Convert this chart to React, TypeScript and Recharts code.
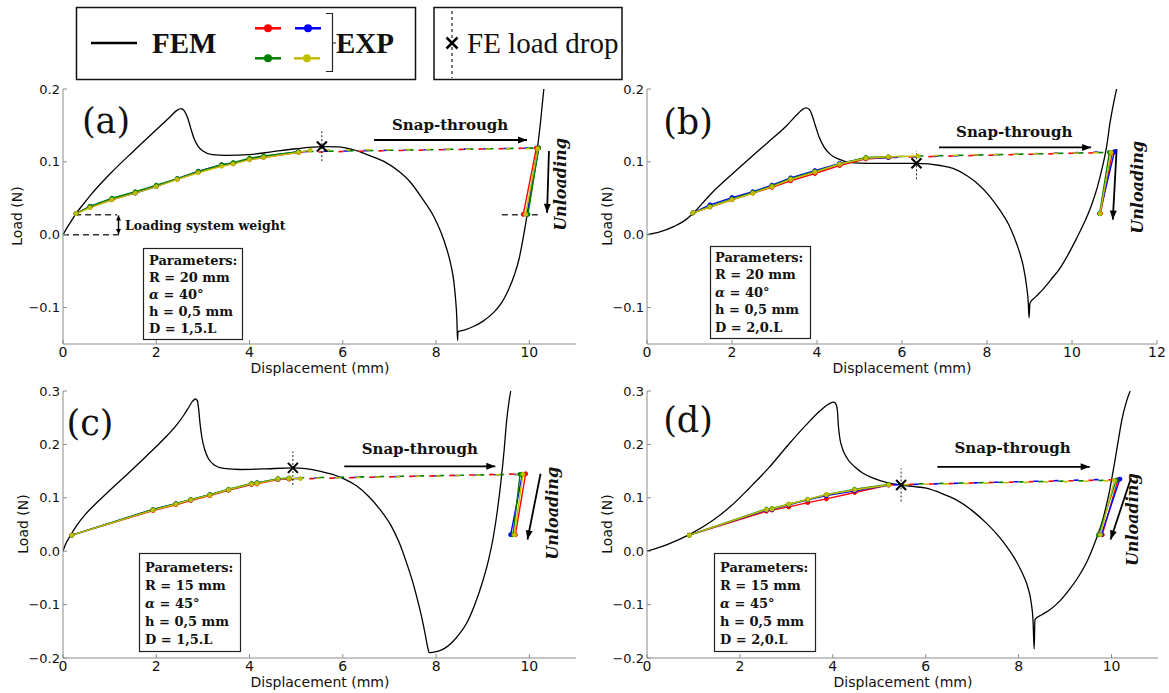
import React from 'react';
import { LineChart, Line, XAxis, YAxis, ReferenceLine, ReferenceDot } from 'recharts';

type Pt = [number, number];
type Row = (number | null)[];

const SERIF = '"DejaVu Serif", serif';
const SANS = '"DejaVu Sans", sans-serif';
const LEGEND_FONT = '"Liberation Serif", serif';
const EXP_COLORS = ['#ff0000', '#0000ff', '#008000', '#bfbf00'];
const AXIS_GREY = '#8c8c8c';

const xTicks11 = [0, 2, 4, 6, 8, 10];
const xTicks12 = [0, 2, 4, 6, 8, 10, 12];
const yTicksTop = [-0.1, 0, 0.1, 0.2];
const yTicksBottom = [-0.2, -0.1, 0, 0.1, 0.2, 0.3];

// ---------- (a) R = 20, D = 1,5.L
const femA: Pt[] = [
  [0, 0], [0.1, 0.011], [0.2, 0.021], [0.28, 0.029], [0.45, 0.043], [0.6, 0.055], [1.0, 0.083],
  [1.5, 0.114], [2.0, 0.144], [2.3, 0.162], [2.45, 0.171], [2.53, 0.173], [2.6, 0.17], [2.67, 0.161],
  [2.74, 0.146], [2.81, 0.132], [2.9, 0.121], [3.0, 0.115], [3.2, 0.11], [3.5, 0.109], [4.0, 0.11],
  [4.5, 0.114], [5.0, 0.118], [5.55, 0.121], [5.9, 0.1205], [6.2, 0.117], [6.6, 0.108], [6.9, 0.1],
  [7.2, 0.087], [7.45, 0.072], [7.7, 0.05], [7.95, 0.025], [8.1, 0.004], [8.23, -0.02], [8.32, -0.042],
  [8.38, -0.064], [8.42, -0.09], [8.445, -0.115], [8.46, -0.145], [8.47, -0.133], [8.6, -0.131],
  [8.8, -0.126], [9.0, -0.119], [9.23, -0.107], [9.4, -0.094], [9.55, -0.076], [9.68, -0.055],
  [9.78, -0.033], [9.88, 0.0], [9.95, 0.027], [10.02, 0.057], [10.1, 0.088], [10.17, 0.117],
  [10.24, 0.155], [10.31, 0.2],
];
// x, red, blue, green, yellow
const loadA: Row[] = [
  [0.28, 0.029, 0.029, 0.029, 0.029],
  [0.58, 0.038, 0.039, 0.039, 0.037],
  [1.05, 0.048, 0.049, 0.05, 0.048],
  [1.55, 0.058, 0.057, 0.059, 0.057],
  [2.0, 0.067, 0.066, 0.068, 0.066],
  [2.45, 0.076, 0.077, 0.077, 0.076],
  [2.9, 0.086, 0.087, 0.087, 0.085],
  [3.4, 0.095, 0.096, 0.096, 0.094],
  [3.65, 0.098, 0.098, 0.099, 0.097],
  [4.0, 0.103, 0.104, 0.105, 0.103],
  [4.3, 0.106, 0.107, 0.108, 0.106],
  [5.05, 0.113, 0.114, 0.114, 0.113],
  [5.3, null, null, null, 0.116],
];
const snapTopA: Pt[] = [[10.15, 0.119], [10.2, 0.119], [10.2, 0.119], [10.18, 0.118]];
const unloadBotA: Pt[] = [[9.87, 0.028], [9.95, 0.028], [9.97, 0.028], [9.92, 0.028]];
const paramsA = ['R = 20 mm', 'α = 40°', 'h = 0,5 mm', 'D = 1,5.L'];

// ---------- (b) R = 20, D = 2,0.L
const femB: Pt[] = [
  [0, 0], [0.3, 0.004], [0.64, 0.0115], [0.9, 0.02], [1.08, 0.029], [1.3, 0.043], [1.52, 0.057],
  [1.96, 0.081], [2.4, 0.104], [2.85, 0.127], [3.29, 0.15], [3.55, 0.166], [3.66, 0.172], [3.74, 0.174],
  [3.82, 0.172], [3.89, 0.163], [3.96, 0.15], [4.05, 0.134], [4.16, 0.121], [4.3, 0.111], [4.5, 0.104],
  [4.8, 0.099], [5.2, 0.098], [5.8, 0.098], [6.34, 0.098], [6.9, 0.095], [7.2, 0.091], [7.53, 0.081],
  [7.8, 0.069], [8.06, 0.053], [8.3, 0.034], [8.51, 0.014], [8.65, -0.005], [8.77, -0.025], [8.86, -0.045],
  [8.93, -0.07], [8.97, -0.092], [8.99, -0.114], [9.01, -0.094], [9.15, -0.085], [9.3, -0.076],
  [9.5, -0.062], [9.74, -0.044], [9.92, -0.026], [10.1, -0.006], [10.3, 0.018], [10.45, 0.039],
  [10.6, 0.066], [10.72, 0.094], [10.82, 0.123], [10.89, 0.152], [10.97, 0.178], [11.05, 0.2],
];
const loadB: Row[] = [
  [1.08, 0.03, 0.03, 0.03, 0.03],
  [1.48, 0.038, 0.041, 0.039, 0.038],
  [2.0, 0.048, 0.051, 0.049, 0.048],
  [2.49, 0.057, 0.059, 0.058, 0.057],
  [2.94, 0.065, 0.068, 0.067, 0.066],
  [3.38, 0.074, 0.078, 0.077, 0.076],
  [3.95, 0.084, 0.088, 0.087, 0.086],
  [4.53, 0.095, 0.098, 0.097, 0.097],
  [5.15, 0.104, 0.105, 0.106, 0.105],
  [5.68, 0.106, 0.106, 0.107, 0.107],
  [6.38, null, null, null, 0.108],
];
const snapTopB: Pt[] = [[10.95, 0.113], [11.0, 0.114], [10.88, 0.113], [10.92, 0.113]];
const unloadBotB: Pt[] = [[10.67, 0.029], [10.65, 0.029], [10.65, 0.029], [10.66, 0.029]];
const paramsB = ['R = 20 mm', 'α = 40°', 'h = 0,5 mm', 'D = 2,0.L'];

// ---------- (c) R = 15, D = 1,5.L
const femC: Pt[] = [
  [0, 0], [0.05, 0.012], [0.15, 0.028], [0.3, 0.049], [0.47, 0.068], [0.75, 0.093], [1.04, 0.117],
  [1.4, 0.146], [1.69, 0.17], [2.0, 0.196], [2.25, 0.218], [2.45, 0.238], [2.6, 0.256], [2.7, 0.27],
  [2.78, 0.281], [2.84, 0.285], [2.88, 0.282], [2.91, 0.265], [2.94, 0.238], [2.98, 0.212], [3.04, 0.19],
  [3.12, 0.173], [3.25, 0.161], [3.45, 0.155], [3.8, 0.153], [4.28, 0.154], [4.93, 0.156], [5.5, 0.15],
  [5.99, 0.137], [6.3, 0.122], [6.55, 0.103], [6.8, 0.078], [7.04, 0.047], [7.2, 0.018], [7.36, -0.02],
  [7.5, -0.058], [7.61, -0.094], [7.7, -0.127], [7.77, -0.157], [7.82, -0.18], [7.85, -0.19],
  [7.95, -0.189], [8.05, -0.187], [8.2, -0.181], [8.34, -0.171], [8.5, -0.155], [8.66, -0.134],
  [8.82, -0.102], [8.99, -0.059], [9.12, -0.018], [9.23, 0.028], [9.32, 0.08], [9.39, 0.13],
  [9.46, 0.19], [9.51, 0.242], [9.56, 0.278], [9.6, 0.3],
];
const loadC: Row[] = [
  [0.19, 0.03, 0.03, 0.03, 0.03],
  [1.93, 0.076, 0.078, 0.078, 0.077],
  [2.42, 0.087, 0.089, 0.089, 0.088],
  [2.74, 0.095, 0.096, 0.097, 0.096],
  [3.15, 0.104, 0.106, 0.106, 0.105],
  [3.55, 0.114, 0.115, 0.116, 0.115],
  [4.04, 0.125, 0.126, 0.127, 0.126],
  [4.16, 0.126, 0.128, 0.128, 0.127],
  [4.61, 0.134, 0.135, 0.136, 0.135],
  [4.85, 0.135, 0.136, 0.137, 0.136],
  [5.09, null, null, null, 0.136],
];
const snapTopC: Pt[] = [[9.92, 0.145], [9.85, 0.144], [9.8, 0.144], [9.86, 0.144]];
const unloadBotC: Pt[] = [[9.7, 0.031], [9.6, 0.031], [9.65, 0.031], [9.68, 0.031]];
const paramsC = ['R = 15 mm', 'α = 45°', 'h = 0,5 mm', 'D = 1,5.L'];

// ---------- (d) R = 15, D = 2,0.L
const femD: Pt[] = [
  [0, 0], [0.42, 0.012], [0.91, 0.031], [1.39, 0.056], [1.8, 0.084], [2.2, 0.118], [2.61, 0.155],
  [3.01, 0.196], [3.42, 0.236], [3.74, 0.264], [3.94, 0.277], [4.02, 0.279], [4.07, 0.275], [4.1, 0.262],
  [4.12, 0.235], [4.15, 0.212], [4.2, 0.194], [4.3, 0.175], [4.47, 0.158], [4.65, 0.146], [4.87, 0.137],
  [5.15, 0.129], [5.47, 0.124], [5.75, 0.121], [6.01, 0.118], [6.35, 0.108], [6.66, 0.096], [7.0, 0.076],
  [7.3, 0.053], [7.55, 0.03], [7.79, 0.003], [7.97, -0.022], [8.11, -0.047], [8.2, -0.068], [8.27, -0.096],
  [8.31, -0.13], [8.335, -0.183], [8.35, -0.128], [8.5, -0.119], [8.68, -0.109], [8.9, -0.092],
  [9.09, -0.072], [9.3, -0.046], [9.49, -0.016], [9.65, 0.018], [9.81, 0.059], [9.95, 0.11],
  [10.06, 0.163], [10.15, 0.21], [10.22, 0.245], [10.32, 0.28], [10.4, 0.3],
];
const loadD: Row[] = [
  [0.91, 0.03, 0.03, 0.03, 0.03],
  [2.57, 0.075, 0.077, 0.079, 0.078],
  [2.69, 0.077, 0.078, 0.08, 0.079],
  [3.05, 0.083, 0.087, 0.088, 0.088],
  [3.46, 0.091, 0.096, 0.097, 0.097],
  [3.86, 0.098, 0.104, 0.106, 0.106],
  [4.47, 0.11, 0.113, 0.116, 0.115],
  [5.2, 0.124, 0.124, 0.125, 0.124],
];
const snapTopD: Pt[] = [[10.14, 0.134], [10.18, 0.135], [10.1, 0.133], [10.06, 0.132]];
const unloadBotD: Pt[] = [[9.8, 0.031], [9.78, 0.031], [9.72, 0.031], [9.76, 0.031]];
const paramsD = ['R = 15 mm', 'α = 45°', 'h = 0,5 mm', 'D = 2,0.L'];

interface PanelCfg {
  letter: string;
  plot: [number, number, number, number]; // left, top, width, height in px
  xMax: number;
  xTicks: number[];
  yDomain: Pt;
  yTicks: number[];
  fem: Pt[];
  load: Row[];
  snapTop: Pt[];
  unloadBot: Pt[];
  drop: Pt;
  dropSpan: Pt;
  snapText: Pt;
  snapArrow: [Pt, Pt];
  unloadText: Pt;
  unloadArrow: [Pt, Pt];
  weight?: boolean;
  params: string[];
  letterPos: Pt;
  box: [number, number, number, number];
  paramText: [number, number, number]; // x, first line centre, step
  loadTitle: Pt;
  dispTitle: Pt;
}

const PANELS: PanelCfg[] = [
  {
    letter: '(a)', plot: [63, 89, 513, 255], xMax: 11, xTicks: xTicks11, yDomain: [-0.15, 0.2], yTicks: yTicksTop,
    fem: femA, load: loadA, snapTop: snapTopA, unloadBot: unloadBotA,
    drop: [5.55, 0.121], dropSpan: [0.101, 0.142],
    snapText: [8.3, 0.15], snapArrow: [[6.67, 0.13], [9.95, 0.13]],
    unloadText: [10.67, 0.069], unloadArrow: [[10.42, 0.115], [10.38, 0.03]],
    weight: true, params: paramsA,
    letterPos: [106, 121], box: [143, 248, 99, 91], paramText: [149, 260, 17],
    loadTitle: [17, 216], dispTitle: [320, 368],
  },
  {
    letter: '(b)', plot: [647, 89, 510, 255], xMax: 12, xTicks: xTicks12, yDomain: [-0.15, 0.2], yTicks: yTicksTop,
    fem: femB, load: loadB, snapTop: snapTopB, unloadBot: unloadBotB,
    drop: [6.34, 0.098], dropSpan: [0.076, 0.115],
    snapText: [8.64, 0.141], snapArrow: [[6.87, 0.1198], [10.45, 0.1198]],
    unloadText: [11.55, 0.065], unloadArrow: [[11.05, 0.1175], [10.96, 0.0207]],
    params: paramsB,
    letterPos: [688, 122], box: [710, 246, 100, 92], paramText: [715, 257, 17.5],
    loadTitle: [607, 216], dispTitle: [902, 368],
  },
  {
    letter: '(c)', plot: [63, 391, 513, 267], xMax: 11, xTicks: xTicks11, yDomain: [-0.2, 0.3], yTicks: yTicksBottom,
    fem: femC, load: loadC, snapTop: snapTopC, unloadBot: unloadBotC,
    drop: [4.93, 0.156], dropSpan: [0.124, 0.187],
    snapText: [7.65, 0.191], snapArrow: [[6.03, 0.159], [9.27, 0.159]],
    unloadText: [10.49, 0.071], unloadArrow: [[10.24, 0.145], [9.96, 0.022]],
    params: paramsC,
    letterPos: [90, 423], box: [139, 553, 101, 98], paramText: [145, 567, 18],
    loadTitle: [23, 524], dispTitle: [320, 682],
  },
  {
    letter: '(d)', plot: [647, 391, 511, 267], xMax: 11, xTicks: xTicks11, yDomain: [-0.2, 0.3], yTicks: yTicksBottom,
    fem: femD, load: loadD, snapTop: snapTopD, unloadBot: unloadBotD,
    drop: [5.47, 0.124], dropSpan: [0.093, 0.155],
    snapText: [7.87, 0.194], snapArrow: [[6.25, 0.158], [9.53, 0.158]],
    unloadText: [10.45, 0.059], unloadArrow: [[10.42, 0.137], [9.98, 0.022]],
    params: paramsD,
    letterPos: [688, 420], box: [714, 553, 101, 98], paramText: [720, 567, 18],
    loadTitle: [607, 524], dispTitle: [903, 682],
  },
];

const Y_W = 63;
const M_TOP = 10;
const M_RIGHT = 10;
const X_H = 40;

const toXY = (pts: Pt[]) => pts.map(([x, y]) => ({ x, y }));
const seriesOf = (rows: Row[], i: number) =>
  rows.filter((r) => r[i + 1] != null).map((r) => ({ x: r[0] as number, y: r[i + 1] as number }));

const fmtY = (v: number) => {
  const s = Math.abs(v).toFixed(1);
  return v < -1e-9 ? '\u2212' + s : s;
};
const blank = () => '';

function headPoints(xa: number, ya: number, xb: number, yb: number, len: number, half: number) {
  const a = Math.atan2(yb - ya, xb - xa);
  const bx = xb - len * Math.cos(a);
  const by = yb - len * Math.sin(a);
  const px = -Math.sin(a) * half;
  const py = Math.cos(a) * half;
  return `${xb},${yb} ${bx + px},${by + py} ${bx - px},${by - py}`;
}

function arrowShape(both: boolean, len = 9, half = 3.5, width = 1.8) {
  return (p: any) => (
    <g>
      <line x1={p.x1} y1={p.y1} x2={p.x2} y2={p.y2} stroke="#000" strokeWidth={width} />
      <polygon points={headPoints(p.x1, p.y1, p.x2, p.y2, len, half)} fill="#000" />
      {both && <polygon points={headPoints(p.x2, p.y2, p.x1, p.y1, len, half)} fill="#000" />}
    </g>
  );
}

function textShape(label: string, size: number, opts: { rotate?: boolean; anchor?: string; italic?: boolean } = {}) {
  return (p: any) => (
    <text
      x={p.cx}
      y={p.cy}
      textAnchor={opts.anchor || 'middle'}
      dominantBaseline="central"
      fontFamily={SERIF}
      fontWeight="bold"
      fontStyle={opts.italic ? 'italic' : 'normal'}
      fontSize={size}
      fill="#111"
      transform={opts.rotate ? `rotate(-90 ${p.cx} ${p.cy})` : undefined}
    >
      {label}
    </text>
  );
}

const crossShape = (p: any) => (
  <g stroke="#000" strokeWidth={2}>
    <line x1={p.cx - 5} y1={p.cy - 5} x2={p.cx + 5} y2={p.cy + 5} />
    <line x1={p.cx - 5} y1={p.cy + 5} x2={p.cx + 5} y2={p.cy - 5} />
  </g>
);

function Panel({ cfg }: { cfg: PanelCfg }) {
  const [left, top, w, h] = cfg.plot;
  const xDom: Pt = [0, cfg.xMax];
  const tickLine = { stroke: AXIS_GREY };
  return (
    <div style={{ position: 'absolute', left: left - Y_W, top: top - M_TOP }}>
      <LineChart
        width={Y_W + w + M_RIGHT}
        height={M_TOP + h + X_H}
        margin={{ top: M_TOP, right: M_RIGHT, bottom: 0, left: 0 }}
      >
        <XAxis
          type="number" dataKey="x" domain={xDom} ticks={cfg.xTicks} interval={0} allowDataOverflow
          height={X_H} stroke={AXIS_GREY} tickLine={tickLine} tickSize={-4} tickMargin={7}
          tick={{ fontSize: 14, fill: '#111', fontFamily: SANS }}
        />
        <XAxis
          xAxisId="top" orientation="top" type="number" domain={xDom} ticks={cfg.xTicks} interval={0}
          allowDataOverflow height={0} stroke={AXIS_GREY} tickLine={tickLine} tickSize={-4} tickFormatter={blank}
        />
        <YAxis
          type="number" domain={cfg.yDomain} ticks={cfg.yTicks} interval={0} allowDataOverflow width={Y_W}
          stroke={AXIS_GREY} tickLine={tickLine} tickSize={-4} tickMargin={7} tickFormatter={fmtY}
          tick={{ fontSize: 13, fill: '#111', fontFamily: SANS }}
        />
        <YAxis
          yAxisId="right" orientation="right" type="number" domain={cfg.yDomain} ticks={cfg.yTicks} interval={0}
          allowDataOverflow width={0} stroke={AXIS_GREY} tickLine={tickLine} tickSize={-4} tickFormatter={blank}
        />

        <Line
          data={toXY(cfg.fem)} dataKey="y" type="monotone" stroke="#000" strokeWidth={1.3}
          dot={false} isAnimationActive={false}
        />

        {EXP_COLORS.map((c, i) => {
          const load = seriesOf(cfg.load, i);
          const last = load[load.length - 1];
          const topPt = { x: cfg.snapTop[i][0], y: cfg.snapTop[i][1] };
          const botPt = { x: cfg.unloadBot[i][0], y: cfg.unloadBot[i][1] };
          return (
            <React.Fragment key={c}>
              <Line
                data={load} dataKey="y" type="linear" stroke={c} strokeWidth={1.4}
                dot={{ r: 2, fill: c, stroke: c, strokeWidth: 1 }} isAnimationActive={false}
              />
              <Line
                data={[last, topPt]} dataKey="y" type="linear" stroke={c} strokeWidth={1.6}
                strokeDasharray="5 15" strokeDashoffset={-5 * i} dot={false} isAnimationActive={false}
              />
              <Line
                data={[topPt, botPt]} dataKey="y" type="linear" stroke={c} strokeWidth={1.4}
                dot={{ r: 2, fill: c, stroke: c, strokeWidth: 1 }} isAnimationActive={false}
              />
            </React.Fragment>
          );
        })}

        {cfg.weight && (
          <ReferenceLine
            segment={[{ x: 0.26, y: 0.0275 }, { x: 1.16, y: 0.0275 }]}
            stroke="#333" strokeWidth={1.5} strokeDasharray="6 4"
          />
        )}
        {cfg.weight && (
          <ReferenceLine
            segment={[{ x: 0, y: 0 }, { x: 1.2, y: 0 }]}
            stroke="#333" strokeWidth={1.5} strokeDasharray="6 4"
          />
        )}
        {cfg.weight && (
          <ReferenceLine
            segment={[{ x: 9.41, y: 0.0275 }, { x: 10.27, y: 0.0275 }]}
            stroke="#333" strokeWidth={1.5} strokeDasharray="6 4"
          />
        )}
        {cfg.weight && (
          <ReferenceLine
            segment={[{ x: 1.19, y: 0.001 }, { x: 1.19, y: 0.0265 }]}
            shape={arrowShape(true, 5, 2.5, 1.4)}
          />
        )}
        {cfg.weight && (
          <ReferenceDot x={1.33} y={0.0124} r={1} shape={textShape('Loading system weight', 12.5, { anchor: 'start' })} />
        )}

        <ReferenceLine
          segment={[{ x: cfg.snapArrow[0][0], y: cfg.snapArrow[0][1] }, { x: cfg.snapArrow[1][0], y: cfg.snapArrow[1][1] }]}
          shape={arrowShape(false)}
        />
        <ReferenceLine
          segment={[{ x: cfg.unloadArrow[0][0], y: cfg.unloadArrow[0][1] }, { x: cfg.unloadArrow[1][0], y: cfg.unloadArrow[1][1] }]}
          shape={arrowShape(false)}
        />
        <ReferenceDot x={cfg.snapText[0]} y={cfg.snapText[1]} r={1} shape={textShape('Snap-through', 15)} />
        <ReferenceDot x={cfg.unloadText[0]} y={cfg.unloadText[1]} r={1} shape={textShape('Unloading', 16, { rotate: true, italic: true })} />

        <ReferenceLine
          segment={[{ x: cfg.drop[0], y: cfg.dropSpan[0] }, { x: cfg.drop[0], y: cfg.dropSpan[1] }]}
          stroke="#222" strokeWidth={1} strokeDasharray="2 2"
        />
        <ReferenceDot x={cfg.drop[0]} y={cfg.drop[1]} r={1} shape={crossShape} />
      </LineChart>
    </div>
  );
}

function ParamLine({ s }: { s: string }) {
  if (s.startsWith('α')) {
    return (
      <>
        <tspan fontStyle="italic">α</tspan>
        {s.slice(1)}
      </>
    );
  }
  return <>{s}</>;
}

function Overlay() {
  return (
    <svg width={1169} height={693} style={{ position: 'absolute', left: 0, top: 0, pointerEvents: 'none' }}>
      {/* legend */}
      <rect x={76.5} y={7.5} width={339} height={72} fill="none" stroke="#111" strokeWidth={1.5} />
      <line x1={91} y1={43} x2={137} y2={43} stroke="#000" strokeWidth={2.5} />
      <text x={152} y={52.5} fontFamily={LEGEND_FONT} fontWeight="bold" fontSize={29} fill="#111">FEM</text>
      {[
        [255, 28.3, 0], [295, 28.3, 1], [255, 58.3, 2], [294, 58.3, 3],
      ].map(([x, y, i]) => (
        <g key={i}>
          <line x1={x} y1={y} x2={x + 26} y2={y} stroke={EXP_COLORS[i]} strokeWidth={2.5} />
          <circle cx={x + 13} cy={y} r={4} fill={EXP_COLORS[i]} />
        </g>
      ))}
      <path d="M326 13.5 H332.5 V71.5 H326 M332.5 43 H336" fill="none" stroke="#222" strokeWidth={1.2} />
      <text x={336} y={52.5} fontFamily={LEGEND_FONT} fontWeight="bold" fontSize={29} fill="#111">EXP</text>

      <rect x={434} y={7.5} width={188} height={72} fill="none" stroke="#111" strokeWidth={1.5} />
      <line x1={452} y1={11} x2={452} y2={78} stroke="#222" strokeWidth={1.2} strokeDasharray="3 3" />
      <g stroke="#000" strokeWidth={2.5}>
        <line x1={446.5} y1={37.5} x2={457.5} y2={48.5} />
        <line x1={446.5} y1={48.5} x2={457.5} y2={37.5} />
      </g>
      <text x={467} y={52.5} fontFamily={LEGEND_FONT} fontSize={29} fill="#111">FE load drop</text>

      {PANELS.map((p) => (
        <g key={p.letter}>
          <text x={p.letterPos[0]} y={p.letterPos[1]} textAnchor="middle" dominantBaseline="central"
            fontFamily={SERIF} fontSize={35} fill="#111">{p.letter}</text>
          <rect x={p.box[0] + 0.5} y={p.box[1] + 0.5} width={p.box[2]} height={p.box[3]} fill="#fff" stroke="#222" strokeWidth={1.2} />
          {['Parameters:', ...p.params].map((s, k) => (
            <text key={k} x={p.paramText[0]} y={p.paramText[1] + k * p.paramText[2]} dominantBaseline="central"
              fontFamily={SERIF} fontWeight="bold" fontSize={13} fill="#111">
              <ParamLine s={s} />
            </text>
          ))}
          <text x={p.loadTitle[0]} y={p.loadTitle[1]} textAnchor="middle" dominantBaseline="central"
            transform={`rotate(-90 ${p.loadTitle[0]} ${p.loadTitle[1]})`} fontFamily={SANS} fontSize={14} fill="#111">
            Load (N)
          </text>
          <text x={p.dispTitle[0]} y={p.dispTitle[1]} textAnchor="middle" dominantBaseline="central"
            fontFamily={SANS} fontSize={14} fill="#111">
            Displacement (mm)
          </text>
        </g>
      ))}
    </svg>
  );
}

export default function App() {
  return (
    <div style={{ position: 'absolute', left: 0, top: 0, width: 1169, height: 693, background: '#fff', overflow: 'hidden' }}>
      {PANELS.map((p) => (
        <Panel key={p.letter} cfg={p} />
      ))}
      <Overlay />
    </div>
  );
}
